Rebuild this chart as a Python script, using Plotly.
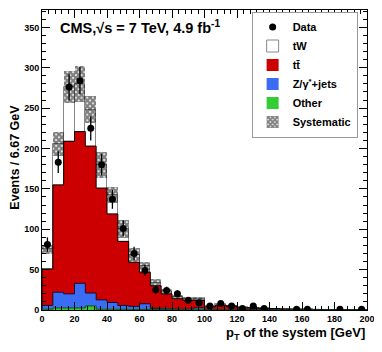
import numpy as np
import plotly.graph_objects as go

# ---- data (30 bins of 6.67 GeV from 0 to 200 GeV) ----
bin_edges = np.linspace(0, 200, 31)
other = [1.0, 2.5, 2.5, 2.5, 5.0, 1.0, 1.0, 0.5, 0.5, 0.5, 0.3, 0.3, 0.2, 0.2, 0.2,
         0.1, 0.1, 0.1, 0, 0, 0, 0, 0, 0, 0, 0, 0, 0, 0, 0]
zjets = [4.6, 19.5, 17.5, 30.5, 16.0, 11.6, 8.3, 5.1, 4.0, 7.2, 1.7, 1.2, 0.8, 0.8, 2.5,
         0.4, 0.3, 0.3, 0.2, 0.2, 0.1, 0.1, 0, 0, 0, 0, 0, 0, 0, 0]
ttbar = [45.4, 133.0, 189.0, 188.0, 182.0, 138.4, 109.7, 79.4, 54.5, 39.3, 28.0, 18.5, 13.0, 11.0, 9.3,
         3.5, 5.6, 4.1, 2.8, 2.3, 1.9, 1.4, 1.2, 1.0, 0.8, 0.5, 0.4, 0.3, 0.2, 0.2]
tw = [24.0, 51.0, 67.0, 59.0, 45.0, 29.0, 23.0, 15.0, 9.0, 8.0, 4.0, 3.0, 2.0, 2.0, 1.5,
      0.8, 1.0, 0.8, 0.5, 0.5, 0.3, 0.2, 0.2, 0.2, 0.1, 0.1, 0.1, 0.05, 0.05, 0.0]
syst = [6, 15, 20, 22, 17, 16, 10, 11, 9, 5, 4.5, 3, 2, 2, 2,
        0.6, 0.8, 0.6, 0.4, 0.3, 0.2, 0.2, 0.1, 0.1, 0.1, 0.1, 0, 0, 0, 0]
data = [81, 183, 276, 284, 225, 180, 137, 101, 70, 49, 25, 24, 20, 12, 9,
        5, 8, 5, 2, 5, 2, None, None, 1, 1, None, None, 1, None, 1]
data_err = [9.0, 13.5, 16.6, 16.9, 15.0, 13.4, 11.7, 10.0, 8.4, 7.0, 5.0, 4.9, 4.5, 3.5, 3.0,
            2.2, 2.8, 2.2, 1.4, 2.2, 1.4, None, None, 1.0, 1.0, None, None, 1.0, None, 1.0]

centers = 0.5 * (bin_edges[:-1] + bin_edges[1:])
width = bin_edges[1] - bin_edges[0]

s_other = np.array(other)
s_z = s_other + np.array(zjets)
s_tt = s_z + np.array(ttbar)
s_tot = s_tt + np.array(tw)
syst_a = np.array(syst)

RED = "#cc0000"
BLUE = "#3a6cf4"
GREEN = "#33cc33"
FONT = "Liberation Sans"

fig = go.Figure()

def step_xy(vals):
    xs = [bin_edges[0]]
    ys = [0]
    for i, v in enumerate(vals):
        xs += [bin_edges[i], bin_edges[i + 1]]
        ys += [v, v]
    xs.append(bin_edges[-1]); ys.append(0)
    return xs, ys

# tW (total stack)
fig.add_trace(go.Bar(x=centers, y=s_tot, width=width, name="tW",
                     marker=dict(color="white", line=dict(color="#888888", width=1)),
                     legendrank=2))
fig.add_trace(go.Bar(x=centers, y=s_tt, width=width, name="tt\u0304",
                     marker=dict(color=RED, line=dict(width=0)), legendrank=3))
fig.add_trace(go.Bar(x=centers, y=s_z, width=width, name="Z/γ<sup>*</sup>+jets",
                     marker=dict(color=BLUE, line=dict(width=0)), legendrank=4))
fig.add_trace(go.Bar(x=centers, y=s_other, width=width, name="Other",
                     marker=dict(color=GREEN, line=dict(width=0)), legendrank=5))

for vals, col in [(s_tt, "black"), (s_z, "#111133"), (s_other, "#115511")]:
    xs, ys = step_xy(vals)
    fig.add_trace(go.Scatter(x=xs, y=ys, mode="lines", line=dict(color=col, width=1),
                             showlegend=False, hoverinfo="skip"))

# systematic band
fig.add_trace(go.Bar(x=centers, y=2 * syst_a, base=s_tot - syst_a, width=width,
                     name="Systematic",
                     marker=dict(color="rgba(0,0,0,0)", line=dict(width=0),
                                 pattern=dict(shape="x", fgcolor="black", bgcolor="rgba(255,255,255,0)",
                                              size=4, solidity=0.8, fillmode="overlay")),
                     legendrank=6))

fig.add_trace(go.Scatter(x=centers, y=data, mode="markers", name="Data",
                         marker=dict(color="black", size=7),
                         error_y=dict(type="data", array=data_err, color="black", thickness=1.3, width=0),
                         legendrank=1))

# page body has an 8px default margin -> figure is shifted; compensate
fig.update_layout(
    width=374, height=344,
    margin=dict(l=34, r=15, t=2, b=42),
    barmode="overlay", bargap=0,
    plot_bgcolor="white", paper_bgcolor="white",
    font=dict(family=FONT, color="black", size=11, weight="bold"),
    showlegend=True,
    legend=dict(x=0.645, y=0.995, xanchor="left", yanchor="top",
                bgcolor="white", bordercolor="#999999", borderwidth=1,
                font=dict(family=FONT, size=11, weight="bold"),
                tracegroupgap=0, itemwidth=30, traceorder="normal"),
    annotations=[
        dict(text="CMS,√s = 7 TeV, 4.9 fb<sup>-1</sup>", x=0.048, y=0.943, xref="paper", yref="paper",
             xanchor="left", yanchor="middle", showarrow=False,
             font=dict(family=FONT, size=14.5, weight="bold")),
        dict(text="Events / 6.67 GeV", x=-0.082, y=0.509, xref="paper", yref="paper",
             xanchor="center", yanchor="middle", textangle=-90, showarrow=False,
             font=dict(family=FONT, size=12.5, weight="bold")),
        dict(text="p<sub>T</sub> of the system [GeV]", x=1.0, y=-0.078, xref="paper", yref="paper",
             xanchor="right", yanchor="middle", showarrow=False,
             font=dict(family=FONT, size=13, weight="bold")),
    ],
)
fig.update_xaxes(range=[0, 200], dtick=20, tick0=0, ticks="inside", ticklen=8, tickwidth=1,
                 tickcolor="black", mirror="ticks", showline=True, linecolor="black", linewidth=1,
                 showgrid=False, zeroline=False,
                 tickfont=dict(family=FONT, size=9, weight="bold"),
                 minor=dict(ticks="inside", dtick=4, ticklen=4, tickcolor="black", showgrid=False))
fig.update_yaxes(range=[0, 371.5], dtick=50, tick0=0, ticks="inside", ticklen=8, tickwidth=1,
                 tickcolor="black", mirror="ticks", showline=True, linecolor="black", linewidth=1,
                 showgrid=False, zeroline=False,
                 tickfont=dict(family=FONT, size=9, weight="bold"),
                 minor=dict(ticks="inside", dtick=10, ticklen=4, tickcolor="black", showgrid=False))

fig.write_html("out.html")
